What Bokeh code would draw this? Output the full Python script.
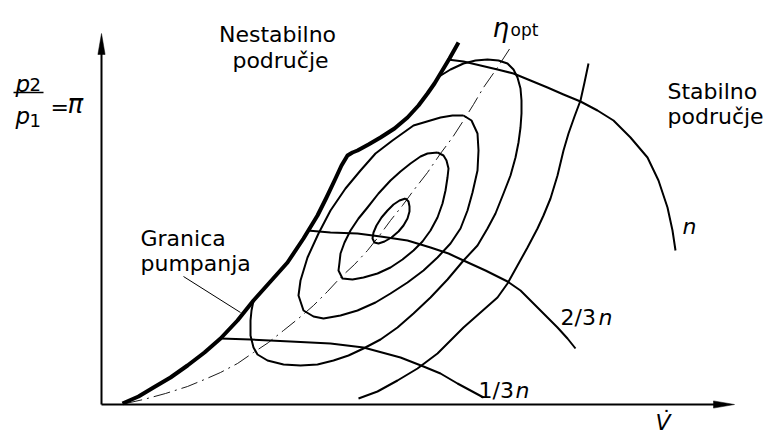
from bokeh.plotting import figure
from bokeh.models import Range1d, Label
from bokeh.embed import file_html
from bokeh.resources import INLINE

# ---- schematic compressor map data (V = volume flow, PI = pressure ratio, arbitrary units) ----
surge_V = [21, 37, 52, 69, 86, 103, 119, 136, 152, 169, 186, 202, 216, 225, 234, 240, 246, 251, 256,
           267, 279, 293, 306, 317, 326, 333, 339, 348, 357]
surge_PI = [1, 8, 17, 27, 39, 52, 66, 84, 104, 123, 142, 166, 189, 207, 226, 239, 249, 252, 254,
            260, 267, 276, 287, 299, 311, 321, 331, 346, 362]

eta_opt_V = [24, 42, 64, 86, 103, 119, 136, 152, 167, 182, 197, 212, 226, 239, 253, 266, 278, 289,
             301, 312, 326, 339, 351, 362, 372, 382, 396, 409]
eta_opt_PI = [1, 5, 11, 18, 25, 32, 41, 52, 62, 74, 86, 99, 113, 127, 140, 154, 169, 184,
              199, 214, 232, 251, 267, 284, 300, 317, 337, 357]

eff1_V = [304, 307, 308, 308, 306, 302, 297, 290, 283, 277, 273, 271, 272, 275, 280, 286, 292, 298, 304]
eff1_PI = [206, 203, 198, 193, 186, 179, 173, 167, 163, 161, 162, 166, 172, 179, 187, 194, 200, 204, 206]

eff2_V = [336, 342, 345, 347, 346, 344, 341, 336, 329, 321, 312, 301, 289, 276, 262, 251, 241, 237,
          238, 239, 243, 249, 257, 266, 277, 289, 299, 309, 319, 326, 336]
eff2_PI = [252, 249, 244, 236, 227, 214, 201, 187, 174, 163, 154, 145, 137, 131, 127, 125, 126, 134,
           142, 151, 162, 174, 186, 197, 211, 224, 233, 241, 248, 251, 252]

eff3_V = [362, 370, 376, 377, 376, 371, 366, 359, 349, 336, 322, 306, 289, 274, 256, 239, 222, 212,
          202, 197, 199, 206, 217, 229, 244, 259, 274, 291, 312, 339, 351, 362]
eff3_PI = [289, 284, 271, 254, 234, 212, 194, 176, 161, 147, 134, 122, 111, 102, 94, 89, 86, 88,
           94, 109, 124, 147, 171, 194, 216, 234, 251, 264, 279, 287, 289, 289]

eff4_V = [336, 349, 362, 374, 386, 397, 406, 412, 416, 419, 420, 420, 419, 417, 414, 409, 402, 394,
          386, 376, 362, 346, 329, 312, 296, 279, 262, 247, 232, 216, 199, 182, 166, 156, 152, 149,
          149, 150, 152]
eff4_PI = [327, 335, 341, 344, 345, 344, 341, 335, 327, 316, 304, 291, 277, 262, 247, 229, 211, 191,
           176, 159, 144, 125, 107, 91, 77, 65, 56, 49, 44, 40, 39, 40, 44, 50, 57, 69,
           84, 94, 104]

eff5_V = [257, 276, 296, 316, 336, 349, 362, 379, 396, 406, 416, 426, 436, 442, 449, 456, 462, 467,
          473, 479, 483, 487]
eff5_PI = [6, 13, 24, 36, 51, 64, 77, 92, 107, 121, 139, 157, 176, 189, 206, 229, 254, 271,
           288, 304, 322, 341]

n_V = [346, 362, 379, 396, 412, 429, 446, 462, 479, 496, 512, 529, 546, 557, 566, 571, 574]
n_PI = [345, 343, 339, 335, 331, 324, 317, 310, 303, 294, 284, 267, 247, 224, 197, 174, 154]

n23_V = [206, 229, 256, 279, 306, 329, 347, 362, 384, 406, 419, 429, 444, 456, 466, 474]
n23_PI = [174, 172, 171, 168, 164, 157, 151, 144, 134, 123, 114, 104, 89, 77, 66, 56]

n13_V = [119, 149, 189, 229, 262, 299, 322, 339, 356, 369, 382]
n13_PI = [66, 65, 63, 61, 57, 47, 38, 31, 21, 14, 7]

leader_V = [82, 139]
leader_PI = [128, 92]

AXIS_V_END = 633
AXIS_PI_END = 371

FONT = "DejaVu Sans"

p = figure(width=769, height=435, x_range=Range1d(-101, 668), y_range=Range1d(-31, 404),
           x_axis_type=None, y_axis_type=None, min_border=0,
           toolbar_location=None, output_backend="svg")
p.outline_line_color = None
p.background_fill_color = "white"
p.border_fill_color = "white"

# axes with arrowheads
HL, HW = 21, 3.6
p.line([0, AXIS_V_END - HL + 2], [0, 0], line_color="black", line_width=2)
p.line([0, 0], [0, AXIS_PI_END - HL + 2], line_color="black", line_width=2)
p.patch([AXIS_V_END, AXIS_V_END - HL, AXIS_V_END - HL], [0, HW, -HW], color="black", line_width=0.5)
p.patch([0, HW, -HW], [AXIS_PI_END, AXIS_PI_END - HL, AXIS_PI_END - HL], color="black", line_width=0.5)

# optimum efficiency line
p.line(eta_opt_V, eta_opt_PI, line_color="black", line_width=0.9, line_dash="17 5 2 5")

# efficiency contours
for xs, ys in [(eff1_V, eff1_PI), (eff2_V, eff2_PI), (eff3_V, eff3_PI), (eff4_V, eff4_PI), (eff5_V, eff5_PI)]:
    p.line(xs, ys, line_color="black", line_width=2, line_join="round")

# speed lines
for xs, ys in [(n_V, n_PI), (n23_V, n23_PI), (n13_V, n13_PI)]:
    p.line(xs, ys, line_color="black", line_width=2, line_join="round")

# surge line
p.line(surge_V, surge_PI, line_color="black", line_width=4, line_join="round")

# leader line
p.line(leader_V, leader_PI, line_color="black", line_width=1)

# fraction bar of p2/p1
p.line([-88, -58], [312, 312], line_color="black", line_width=1.5)


def lab(x, y, t, size="22px", style="normal", align="left"):
    p.add_layout(Label(x=x, y=y, text=t, text_font=FONT, text_font_size=size,
                       text_font_style=style, text_align=align, text_baseline="alphabetic",
                       text_color="black"))


lab(176, 370, "Nestabilno", align="center")
lab(179, 344, "područje", align="center")
lab(566, 313, "Stabilno")
lab(566, 288, "područje")
lab(39, 166, "Granica")
lab(39, 141, "pumpanja")
lab(459, 87, "2/3")
lab(497, 87, "n", style="italic")
lab(377, 14, "1/3")
lab(414, 14, "n", style="italic")
lab(581, 178, "n", style="italic")
lab(391, 377, "η", size="26px", style="italic")
lab(409, 375, "opt", size="17px")
lab(-86, 321, "p", size="23px", style="italic")
lab(-72, 320, "2", size="18px")
lab(-86, 289, "p", size="23px", style="italic")
lab(-72, 284, "1", size="18px")
lab(-51, 297, "=", size="22px")
lab(-34, 301, "π", size="26px", style="italic")
lab(554, -18, "V", size="22px", style="italic")
lab(565, -14, "\u02d9", size="22px", align="center")

open("out.html", "w").write(file_html(p, INLINE))
